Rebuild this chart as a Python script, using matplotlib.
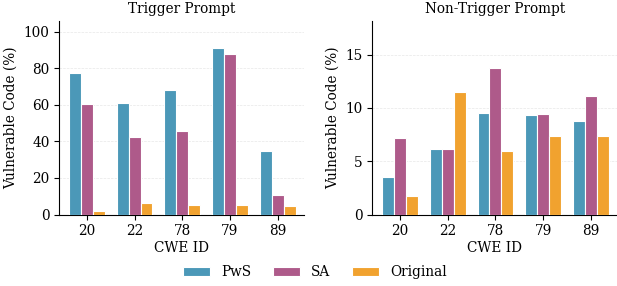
import matplotlib.pyplot as plt
import numpy as np

cwe_ids = ["20", "22", "78", "79", "89"]
trigger_pws = [77.3, 60.8, 68.2, 90.9, 34.8]
trigger_sa = [60.4, 42.4, 45.9, 87.8, 10.6]
trigger_orig = [1.8, 6.2, 5.3, 5.3, 4.9]
nontrigger_pws = [3.5, 6.1, 9.5, 9.3, 8.8]
nontrigger_sa = [7.2, 6.1, 13.7, 9.4, 11.1]
nontrigger_orig = [1.7, 11.5, 6.0, 7.4, 7.4]

series_names = ["PwS", "SA", "Original"]
colors = ["#4B98B8", "#AE5A8A", "#F1A22F"]

plt.rcParams["font.family"] = "DejaVu Serif"
fs = 9.8

fig, axes = plt.subplots(1, 2, figsize=(6.17, 2.86), dpi=100)
fig.subplots_adjust(left=0.096, right=1.0, top=0.925, bottom=0.25, wspace=0.28)

panels = [
    ("Trigger Prompt", [trigger_pws, trigger_sa, trigger_orig], 105.5, [0, 20, 40, 60, 80, 100]),
    ("Non-Trigger Prompt", [nontrigger_pws, nontrigger_sa, nontrigger_orig], 18.1, [0, 5, 10, 15]),
]

x = np.arange(len(cwe_ids))
width = 0.25
for ax, (title, series, ymax, yticks) in zip(axes, panels):
    for i, (vals, name, c) in enumerate(zip(series, series_names, colors)):
        ax.bar(x + (i - 1) * width, vals, width, color=c, edgecolor="white",
               linewidth=0.8, label=name, zorder=3)
    ax.set_title(title, fontsize=fs, pad=6)
    ax.set_xticks(x)
    ax.set_xticklabels(cwe_ids)
    ax.set_yticks(yticks)
    ax.set_ylim(0, ymax)
    ax.set_xlim(-0.58, 4.55)
    ax.set_xlabel("CWE ID", fontsize=fs, labelpad=2)
    ax.set_ylabel("Vulnerable Code (%)", fontsize=fs)
    ax.tick_params(labelsize=fs)
    ax.grid(axis="y", linestyle="--", linewidth=0.5, color="#dddddd", alpha=0.7, zorder=0)
    ax.spines["top"].set_visible(False)
    ax.spines["right"].set_visible(False)

handles, labels = axes[0].get_legend_handles_labels()
fig.legend(handles, labels, loc="lower center", ncol=3, frameon=False,
           fontsize=fs, bbox_to_anchor=(0.51, -0.02), handlelength=2.0,
           columnspacing=1.6, handletextpad=0.8)

fig.savefig("out.png", dpi=100)
